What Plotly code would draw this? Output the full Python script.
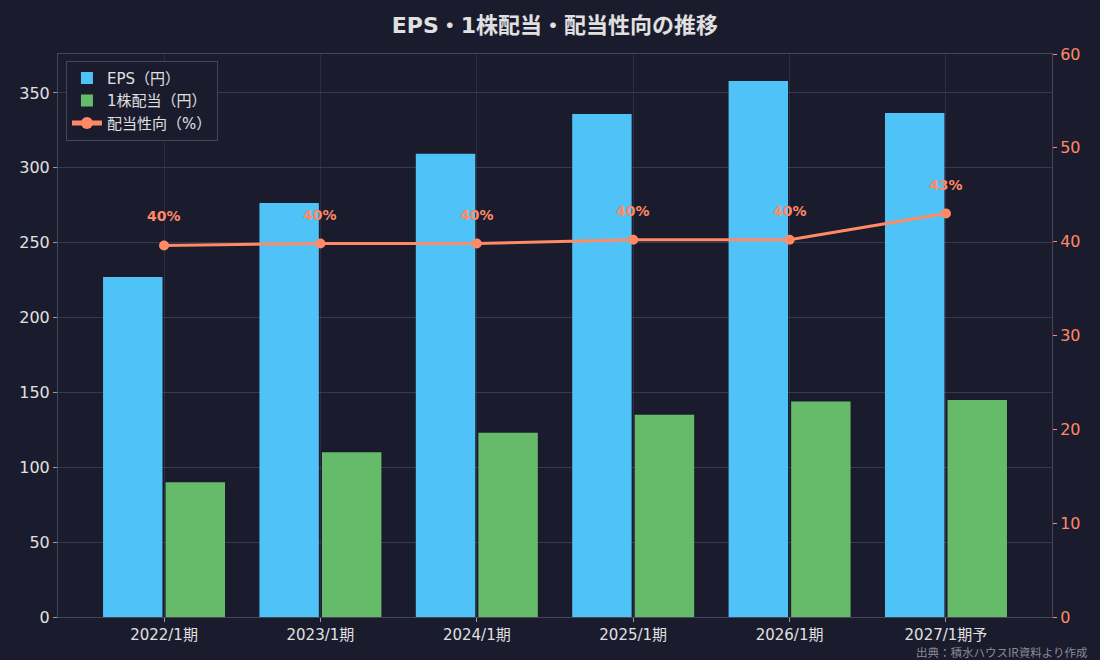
import plotly.graph_objects as go

categories = ["2022/1期", "2023/1期", "2024/1期", "2025/1期", "2026/1期", "2027/1期予"]
eps = [227.1, 276.5, 309.3, 335.9, 358.0, 336.6]
dividend = [90.0, 110.0, 123.0, 135.0, 144.0, 145.0]
payout = [39.6, 39.8, 39.8, 40.2, 40.2, 43.0]
payout_labels = ["40%", "40%", "40%", "40%", "40%", "43%"]

BG = "#1b1b2e"
TXT = "#e0e0e0"
ORANGE = "#ff8a65"
FONT = "DejaVu Sans, Noto Sans CJK JP"

xs = list(range(len(categories)))

fig = go.Figure()
fig.add_trace(go.Bar(x=xs, y=eps, name="EPS（円）", marker=dict(color="#4fc3f7", line=dict(width=0)),
                     width=0.38, offset=-0.39))
fig.add_trace(go.Bar(x=xs, y=dividend, name="1株配当（円）", marker=dict(color="#66bb6a", line=dict(width=0)),
                     width=0.38, offset=0.01))
fig.add_trace(go.Scatter(x=xs, y=payout, name="配当性向（%）", yaxis="y2", mode="lines+markers",
                         line=dict(color=ORANGE, width=3), marker=dict(size=10, color=ORANGE)))

for xi, yi, lab in zip(xs, payout, payout_labels):
    fig.add_annotation(x=xi, y=yi, xref="x", yref="y2", text=lab, showarrow=False, yshift=29,
                       font=dict(color=ORANGE, size=14, family=FONT, weight="bold"))

fig.add_annotation(xref="paper", yref="paper", x=1.0, y=-0.063, xanchor="right", yanchor="middle",
                   xshift=38, text="出典：積水ハウスIR資料より作成", showarrow=False,
                   font=dict(color="#8a8a95", size=11.5, family="Noto Sans CJK JP"))

fig.update_layout(
    width=1100, height=660,
    paper_bgcolor=BG, plot_bgcolor=BG,
    margin=dict(l=58, r=48, t=54, b=43),
    font=dict(family=FONT, color=TXT, size=15),
    title=dict(text="<b>EPS・1株配当・配当性向の推移</b>", x=0.5045, xanchor="center", y=0.961, yanchor="middle",
               font=dict(size=22, color=TXT, family=FONT)),
    barmode="overlay",
    showlegend=True,
    legend=dict(x=0.008, y=0.988, xanchor="left", yanchor="top", bgcolor=BG, bordercolor="#44465a",
                borderwidth=1, font=dict(size=15, color=TXT, family=FONT), tracegroupgap=0,
                itemsizing="constant"),
    xaxis=dict(range=[-0.678, 5.678], tickmode="array", tickvals=xs, ticktext=categories,
               showgrid=True, gridcolor="#2c2d42", gridwidth=1, zeroline=False,
               showline=True, linecolor="#44465a", mirror=True, ticks="outside", ticklen=4,
               tickcolor="#9a9aa5", tickfont=dict(size=15, color=TXT)),
    yaxis=dict(range=[0, 376], tickvals=[0, 50, 100, 150, 200, 250, 300, 350], showgrid=True,
               gridcolor="rgba(80,82,105,0.55)", gridwidth=1, zeroline=False, showline=True,
               linecolor="#44465a", ticks="outside", ticklen=4, tickcolor="#9a9aa5",
               tickfont=dict(size=16, color=TXT), layer="above traces"),
    yaxis2=dict(range=[0, 60], overlaying="y", side="right", tickvals=[0, 10, 20, 30, 40, 50, 60],
                showgrid=False, zeroline=False, showline=True, linecolor="#44465a", ticks="outside",
                ticklen=4, tickcolor=ORANGE, tickfont=dict(size=16, color=ORANGE)),
)

fig.write_html("out.html")
